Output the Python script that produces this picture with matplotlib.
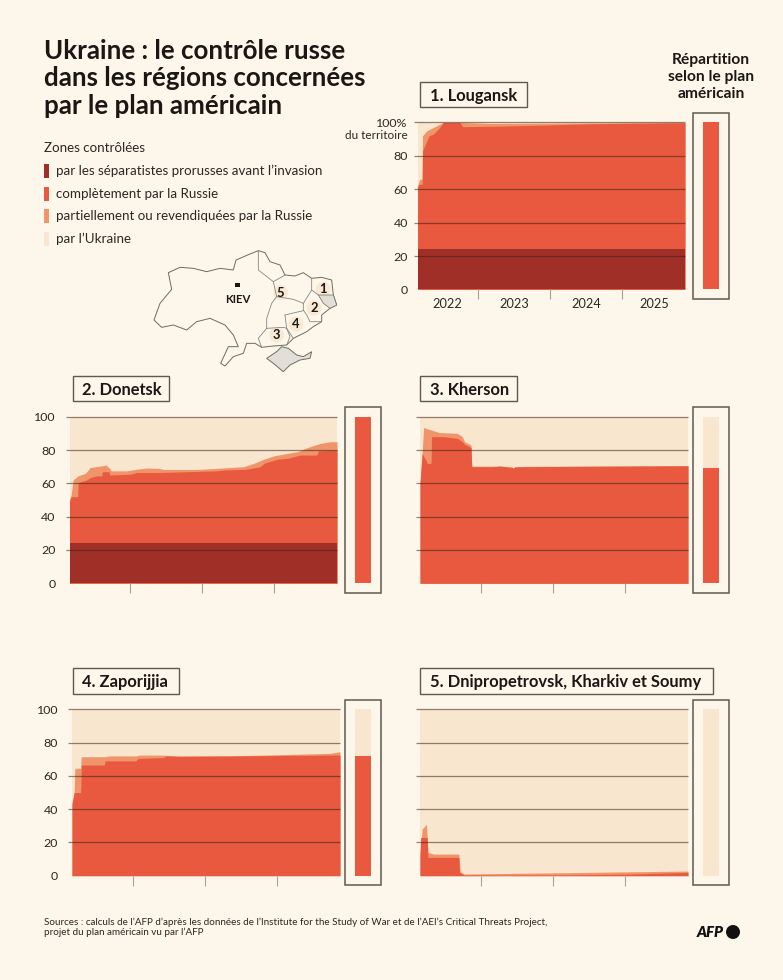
import matplotlib
matplotlib.use("Agg")
import matplotlib.pyplot as plt
from matplotlib.patches import Rectangle, Circle, Polygon

W, H = 783, 980
BG = "#FDF6EA"; PALE = "#F9E6CF"; ORANGE = "#F0956A"; RED = "#E8593F"; DARK = "#A02F28"
INK = "#1A1714"; GREY = "#7D7668"
plt.rcParams["font.family"] = ["Lato", "DejaVu Sans"]

# ---- data: decimal years, % of territory
lou_full_x = [2022.15, 2022.17, 2022.215, 2022.22, 2022.31, 2022.37, 2022.46, 2022.51, 2022.74, 2022.78, 2023.16, 2023.8, 2024.6, 2025.88]
lou_full_y = [61, 63, 63, 83, 92, 93, 97, 100, 100, 97.5, 97.7, 98.3, 99.3, 99.8]
lou_part_x = [2022.15, 2022.18, 2022.215, 2022.22, 2022.28, 2022.37, 2022.46, 2022.51, 2022.76, 2023.16, 2025.88]
lou_part_y = [62, 66, 66, 92, 95, 97, 99, 100, 100, 99.4, 100]
lou_dark = 24

don_full_x = [2022.15, 2022.17, 2022.265, 2022.27, 2022.39, 2022.44, 2022.53, 2022.6, 2022.61, 2022.7, 2022.71, 2023.0, 2023.09, 2023.42, 2024.2, 2024.3, 2024.63, 2024.81, 2024.86, 2025.05, 2025.19, 2025.37, 2025.6, 2025.62, 2025.88]
don_full_y = [49, 52, 52, 60.5, 62, 63.5, 64.5, 64.5, 67, 67, 65, 65.5, 66.5, 66.5, 67.5, 68, 68.5, 70, 72, 74.5, 75, 77, 77, 79.5, 80]
don_part_x = [2022.15, 2022.17, 2022.2, 2022.27, 2022.37, 2022.44, 2022.6, 2022.66, 2022.71, 2022.73, 2022.95, 2023.09, 2023.23, 2023.4, 2023.47, 2023.93, 2024.2, 2024.58, 2024.72, 2024.86, 2025.0, 2025.19, 2025.33, 2025.47, 2025.65, 2025.79, 2025.88]
don_part_y = [50, 52, 62, 64.5, 66, 69.5, 70.5, 71, 69, 67.5, 67.5, 68.5, 69.2, 69, 68.3, 68.3, 69, 70, 72, 74.5, 76.5, 78, 79, 81.5, 84, 85, 85]
don_dark = 24

khe_full_x = [2022.15, 2022.18, 2022.23, 2022.25, 2022.305, 2022.31, 2022.48, 2022.67, 2022.74, 2022.77, 2022.86, 2022.87, 2023.17, 2023.26, 2023.43, 2023.45, 2023.47, 2023.63, 2025.88]
khe_full_y = [60, 78, 74, 72, 72, 88, 88, 87, 85, 83.5, 81.5, 70, 70, 70.3, 69.5, 69, 69.8, 70, 70.5]
khe_part_x = [2022.15, 2022.18, 2022.2, 2022.27, 2022.42, 2022.67, 2022.74, 2022.77, 2022.86, 2022.87, 2023.17, 2023.26, 2023.43, 2023.45, 2023.47, 2023.63, 2025.88]
khe_part_y = [60, 78, 93.5, 92.5, 90.5, 90, 88, 85, 83, 70.3, 70.3, 70.5, 69.8, 69.2, 70, 70.2, 70.7]

zap_full_x = [2022.15, 2022.18, 2022.27, 2022.28, 2022.6, 2022.61, 2023.04, 2023.07, 2023.42, 2023.46, 2023.65, 2025.88]
zap_full_y = [43, 50, 50, 66.5, 66.5, 69, 69, 70.5, 71, 72, 71.7, 72.5]
zap_part_x = [2022.15, 2022.18, 2022.19, 2022.27, 2022.28, 2022.6, 2022.67, 2023.04, 2023.09, 2023.42, 2023.6, 2024.35, 2025.28, 2025.74, 2025.88]
zap_part_y = [43, 50, 64.5, 64.5, 71.5, 71.5, 72, 72, 72.5, 72.5, 72, 72, 73, 73.5, 74.5]

dni_full_x = [2022.15, 2022.16, 2022.25, 2022.26, 2022.69, 2022.7, 2022.76, 2023.26, 2024.19, 2025.12, 2025.88]
dni_full_y = [12, 23, 23, 11, 11, 2, 0.5, 0.4, 0.5, 1, 2]
dni_part_x = [2022.15, 2022.18, 2022.24, 2022.26, 2022.34, 2022.69, 2022.71, 2022.76, 2025.88]
dni_part_y = [12, 28, 31, 14, 13, 13, 2.5, 1, 2.8]

y_ticks = [0, 20, 40, 60, 80, 100]
x_ticks = [2023, 2024, 2025]
year_labels = ["2022", "2023", "2024", "2025"]
year_label_x = [2022.57, 2023.5, 2024.5, 2025.45]
plan_values = {"lou": 100, "don": 100, "khe": 69.5, "zap": 72, "dni": 0}

legend_labels = ["par les séparatistes prorusses avant l’invasion", "complètement par la Russie",
                 "partiellement ou revendiquées par la Russie", "par l’Ukraine"]

# ---- map outlines
ukraine = [(72,240),(90,190),(125,148),(115,98),(150,82),(190,85),(230,95),(270,85),(310,90),(318,60),(360,42),(385,32),(405,38),(420,65),(450,75),(465,105),(495,108),(520,98),(545,115),(575,112),(605,120),(610,165),(620,195),(600,205),(575,225),(575,245),(550,260),(530,275),(490,295),(470,315),(430,318),(395,322),(375,310),(350,310),(340,340),(310,350),(285,378),(272,370),(295,320),(325,320),(310,285),(285,255),(240,235),(200,245),(170,270),(130,255),(95,262),(72,240)]
crimea = [(410,355),(440,335),(455,320),(475,325),(500,345),(520,350),(545,335),(540,355),(510,360),(480,375),(460,395),(430,370),(410,355)]
luh_occ = [(565,165),(585,165),(610,165),(620,195),(600,205),(580,190)]
borders = [[(385,32),(385,90),(430,125),(465,105)],
           [(430,125),(440,170),(490,178),(520,190),(545,150),(545,115)],
           [(545,150),(565,165)],
           [(520,190),(520,210),(530,225),(540,245),(575,245)],
           [(465,225),(520,212)],
           [(465,225),(470,265),(490,295)],
           [(410,265),(460,262),(470,265)],
           [(410,265),(385,295),(395,322)],
           [(470,265),(480,290),(470,315)],
           [(440,170),(425,190),(410,235),(410,265)]]
map_labels = [("1", 580, 148), ("2", 552, 204), ("3", 440, 285), ("4", 498, 252), ("5", 452, 158)]

fig = plt.figure(figsize=(W/100, H/100), dpi=100, facecolor=BG)
bg = fig.add_axes([0, 0, 1, 1]); bg.set_xlim(0, W); bg.set_ylim(H, 0); bg.axis("off")

def panel(x0, x1, y100, y0, title, tb, full, part, dark, plan, box, bar, ylabels):
    ax = fig.add_axes([x0/W, 1-y0/H, (x1-x0)/W, (y0-y100)/H], facecolor=PALE)
    ax.set_xlim(2022.15, 2025.88); ax.set_ylim(0, 100)
    ax.fill_between(part[0], part[1], 0, color=ORANGE, lw=0)
    ax.fill_between(full[0], full[1], 0, color=RED, lw=0)
    if dark:
        ax.axhspan(0, dark, color=DARK, lw=0)
    for s in ax.spines.values():
        s.set_visible(False)
    ax.set_yticks(y_ticks); ax.set_xticks(x_ticks)
    ax.set_xticklabels([])
    ax.tick_params(axis="x", length=7, width=0.8, color="#A8A294")
    ax.tick_params(axis="y", length=0, pad=10, labelsize=8.9, labelcolor="#2B2722", labelleft=ylabels)
    for v in y_ticks[1:]:
        ax.plot([-4/(x1-x0), 1], [v/100]*2, transform=ax.transAxes, clip_on=False,
                color="#3A2214", alpha=0.55, lw=0.9, zorder=5, solid_capstyle="butt")
    # title box
    bg.add_patch(Rectangle((tb[0], tb[1]), tb[2]-tb[0], tb[3]-tb[1], fc=BG, ec="#5E5A50", lw=1.0))
    bg.text(tb[0]+9.5, (tb[1]+tb[3])/2, title, fontsize=11.9, fontweight="bold", color=INK, va="center_baseline", ha="left")
    # plan frame + bar
    bg.add_patch(Rectangle((box[0], y100-9.5), box[1]-box[0], y0-y100+19, fc="none", ec="#5E5A50", lw=1.1))
    side = fig.add_axes([bar[0]/W, 1-y0/H, (bar[1]-bar[0])/W, (y0-y100)/H], facecolor=PALE)
    side.set_xlim(0, 1); side.set_ylim(0, 100); side.axis("off")
    side.add_patch(Rectangle((0, 0), 1, 100, fc=PALE, lw=0))
    side.bar(0.5, plan, width=1, color=RED, lw=0)
    return ax

ax1 = panel(417.5, 685, 122.5, 289.5, "1. Lougansk", (420, 81.7, 527, 107.5), (lou_full_x, lou_full_y), (lou_part_x, lou_part_y), lou_dark, plan_values["lou"], (693.3, 729), (703.3, 718.7), True)
ax2 = panel(69.5, 337, 416.7, 583.3, "2. Donetsk", (72.5, 375.7, 169, 401.5), (don_full_x, don_full_y), (don_part_x, don_part_y), don_dark, plan_values["don"], (345.3, 381), (355.3, 370.7), True)
ax3 = panel(420, 688, 416.7, 583.3, "3. Kherson", (420, 375.7, 517, 401.5), (khe_full_x, khe_full_y), (khe_part_x, khe_part_y), 0, plan_values["khe"], (693.3, 729), (703.3, 718.7), False)
ax4 = panel(72, 340, 709.3, 875.7, "4. Zaporijjia", (72.5, 667.7, 178.5, 693.7), (zap_full_x, zap_full_y), (zap_part_x, zap_part_y), 0, plan_values["zap"], (345.3, 381), (355.3, 370.7), True)
ax5 = panel(420, 688, 709.3, 875.7, "5. Dnipropetrovsk, Kharkiv et Soumy", (420, 667.7, 712.5, 693.7), (dni_full_x, dni_full_y), (dni_part_x, dni_part_y), 0, plan_values["dni"], (693.3, 729), (703.3, 718.7), False)

# panel 1 axis labelling
labels = [str(v) for v in y_ticks]; labels[-1] = "100%"
ax1.set_yticklabels(labels)
bg.text(408, 135.5, "du territoire", fontsize=8.5, color="#2B2722", ha="right", va="center")
ax1.tick_params(axis="y", pad=7)
for xv, lab in zip(year_label_x, year_labels):
    ax1.annotate(lab, (xv, 0), xytext=(0, -14.5), textcoords="offset pixels", fontsize=9.2, color="#2B2722", ha="center", va="center", annotation_clip=False)

# heading
for i, line in enumerate(["Ukraine : le contrôle russe", "dans les régions concernées", "par le plan américain"]):
    bg.text(44, 51+27.5*i, line, fontsize=18.6, fontweight="bold", color=INK, ha="left", va="center")
for i, line in enumerate(["Répartition", "selon le plan", "américain"]):
    bg.text(711, 60+17*i, line, fontsize=11.2, fontweight="bold", color=INK, ha="center", va="center")

# legend
bg.text(44, 148, "Zones contrôlées", fontsize=9.6, color="#2B2722", va="center")
for y, c, lab in zip([171, 194, 216, 239], [DARK, RED, ORANGE, PALE], legend_labels):
    bg.add_patch(Rectangle((44, y-7), 5, 14, fc=c, lw=0))
    bg.text(56, y, lab, fontsize=9.6, color="#2B2722", va="center")

# map
def mp(pts):
    return [(130+x/3, 240+y/3) for x, y in pts]
for lab, x, y in map_labels:
    (px, py), = mp([(x, y)])
    bg.add_patch(Circle((px, py), 7.5, fc=PALE, lw=0, alpha=0.8, zorder=1))
bg.add_patch(Polygon(mp(ukraine), fc="none", ec="#6F6B62", lw=0.7, zorder=2))
bg.add_patch(Polygon(mp(crimea), fc="#E2DFD8", ec="#6F6B62", lw=0.7, zorder=2))
bg.add_patch(Polygon(mp(luh_occ), fc="#E2DFD8", ec="#6F6B62", lw=0.5, zorder=2))
for b in borders:
    xs, ys = zip(*mp(b))
    bg.plot(xs, ys, color="#8A867C", lw=0.6, zorder=2)
for lab, x, y in map_labels:
    (px, py), = mp([(x, y)])
    bg.text(px, py, lab, fontsize=9.4, fontweight="bold", color=INK, ha="center", va="center", zorder=3)
bg.add_patch(Rectangle((235, 282.5), 4.5, 4.5, fc=INK, lw=0, zorder=3))
bg.text(237.5, 299.5, "KIEV", fontsize=8.2, fontweight="bold", color=INK, ha="center", va="center", zorder=3)

# footer
bg.text(44, 922.5, "Sources : calculs de l’AFP d’après les données de l’Institute for the Study of War et de l’AEI’s Critical Threats Project,", fontsize=7.15, color="#2B2722", va="center")
bg.text(44, 932.5, "projet du plan américain vu par l’AFP", fontsize=7.15, color="#2B2722", va="center")
bg.text(697, 932, "AFP", fontsize=10.8, fontweight="heavy", style="italic", color="#111111", va="center", ha="left")
bg.add_patch(Circle((733, 932), 7, fc="#111111", lw=0))

fig.savefig("out.png", dpi=100, facecolor=BG)
